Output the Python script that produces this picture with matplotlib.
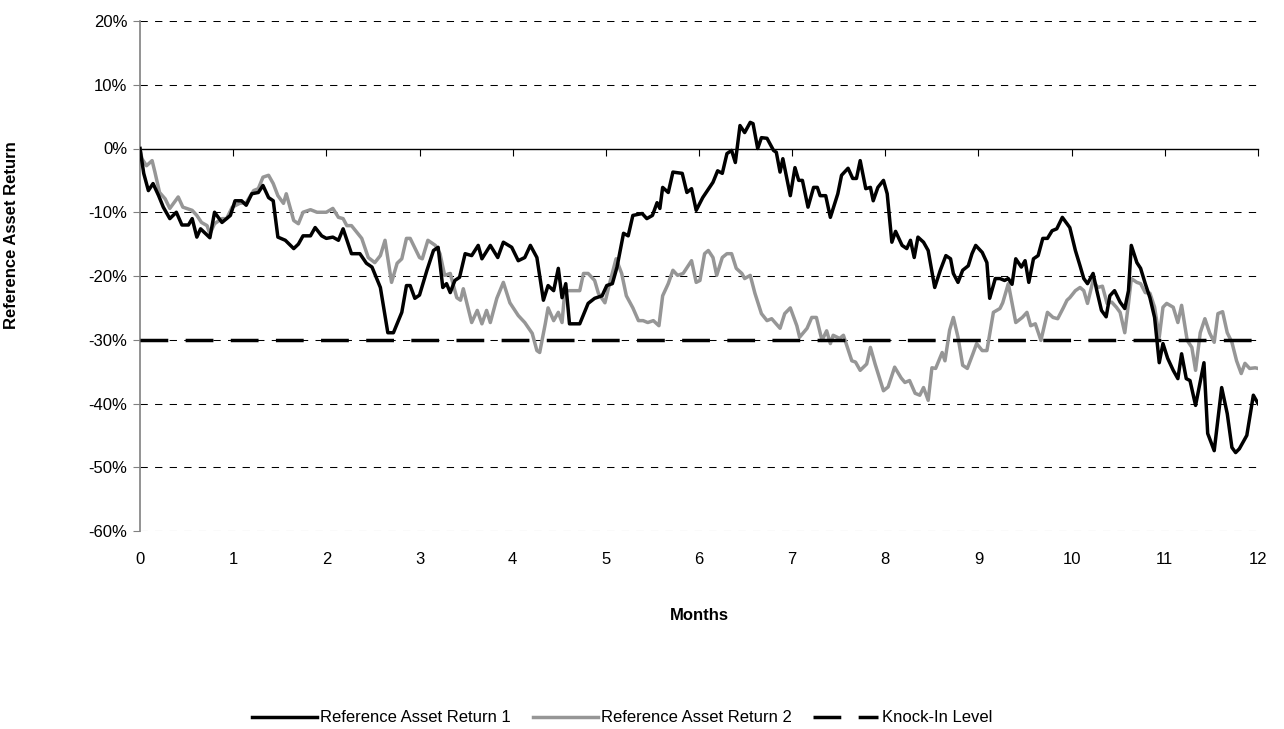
import matplotlib
matplotlib.use("Agg")
import matplotlib.pyplot as plt
from matplotlib.ticker import FuncFormatter, MultipleLocator

plt.rcParams['font.family'] = ['Liberation Sans', 'DejaVu Sans']

# Reference Asset Return 1 (black), months / return in %
months_1 = [0.0, 0.04, 0.09, 0.14, 0.2, 0.25, 0.32, 0.39, 0.45, 0.52, 0.56, 0.61, 0.65, 0.75, 0.8,
            0.88, 0.97, 1.02, 1.09, 1.14, 1.2, 1.27, 1.32, 1.38, 1.43, 1.48, 1.56, 1.65, 1.7, 1.75,
            1.83, 1.88, 1.95, 2.0, 2.07, 2.13, 2.18, 2.27, 2.36, 2.43, 2.49, 2.58, 2.66, 2.72, 2.81,
            2.86, 2.9, 2.95, 3.0, 3.08, 3.15, 3.2, 3.25, 3.29, 3.33, 3.38, 3.43, 3.49, 3.56, 3.63,
            3.67, 3.76, 3.84, 3.9, 3.99, 4.06, 4.13, 4.19, 4.26, 4.33, 4.38, 4.44, 4.49, 4.53, 4.57,
            4.61, 4.72, 4.81, 4.88, 4.96, 5.01, 5.07, 5.12, 5.19, 5.24, 5.29, 5.39, 5.44, 5.5, 5.55,
            5.58, 5.61, 5.67, 5.72, 5.82, 5.87, 5.92, 5.97, 6.04, 6.09, 6.15, 6.2, 6.25, 6.3, 6.35,
            6.39, 6.44, 6.49, 6.55, 6.58, 6.63, 6.67, 6.73, 6.76, 6.8, 6.83, 6.87, 6.9, 6.98, 7.03,
            7.07, 7.11, 7.17, 7.23, 7.27, 7.3, 7.36, 7.41, 7.46, 7.49, 7.53, 7.6, 7.65, 7.69, 7.73,
            7.79, 7.84, 7.87, 7.92, 7.98, 8.02, 8.07, 8.11, 8.18, 8.23, 8.27, 8.31, 8.35, 8.41, 8.46,
            8.53, 8.59, 8.65, 8.7, 8.73, 8.78, 8.83, 8.89, 8.93, 8.97, 9.04, 9.09, 9.12, 9.18, 9.23,
            9.28, 9.32, 9.36, 9.4, 9.46, 9.5, 9.54, 9.59, 9.64, 9.69, 9.74, 9.79, 9.84, 9.9, 9.95,
            9.98, 10.04, 10.09, 10.13, 10.17, 10.23, 10.27, 10.32, 10.37, 10.41, 10.46, 10.52, 10.57,
            10.61, 10.64, 10.7, 10.74, 10.79, 10.84, 10.89, 10.94, 10.98, 11.03, 11.09, 11.14, 11.18,
            11.23, 11.27, 11.33, 11.42, 11.46, 11.53, 11.61, 11.67, 11.72, 11.76, 11.8, 11.88, 11.95,
            12.0]
return_1 = [0, -3.9, -6.6, -5.5, -7.4, -9.2, -11, -10, -12, -12, -11, -13.9, -12.6, -14, -10,
            -11.6, -10.5, -8.2, -8.2, -8.9, -7.1, -6.9, -5.8, -7.7, -8.2, -13.9, -14.4, -15.7, -15, -13.7,
            -13.7, -12.4, -13.7, -14.1, -13.9, -14.4, -12.6, -16.5, -16.5, -18, -18.6, -21.8, -28.9, -28.9, -25.7,
            -21.5, -21.5, -23.5, -23, -19.1, -16, -15.5, -21.8, -21.2, -22.6, -20.7, -20.2, -16.5, -16.8, -15.2,
            -17.3, -15.2, -17.1, -14.7, -15.5, -17.6, -17.1, -15.2, -17.1, -23.8, -21.5, -22.3, -18.8, -23.4, -21.2,
            -27.5, -27.5, -24.3, -23.5, -23.1, -21.5, -21.2, -18.6, -13.3, -13.7, -10.5, -10.2, -11, -10.5, -8.5,
            -9.4, -6.1, -6.9, -3.7, -3.9, -6.9, -6.3, -9.7, -7.7, -6.6, -5.3, -3.5, -3.9, -0.8, -0.3,
            -2.2, 3.6, 2.5, 4.1, 3.9, 0, 1.7, 1.6, 0.8, -0.3, -0.6, -3.7, -1.6, -7.4, -3,
            -5, -5, -9.2, -6.1, -6.1, -7.4, -7.4, -10.8, -8.5, -7.1, -4.2, -3.1, -4.7, -4.7, -1.9,
            -6.3, -6.1, -8.2, -6.1, -5, -7.1, -14.7, -13, -15.2, -15.7, -14.4, -17.1, -13.9, -14.7, -16,
            -21.8, -19.1, -16.8, -17.3, -19.6, -21, -19.1, -18.4, -16.5, -15.2, -16.3, -17.9, -23.5, -20.4, -20.4,
            -20.7, -20.4, -21.3, -17.3, -18.6, -17.6, -21, -17.3, -16.8, -14.1, -14.1, -12.9, -12.6, -10.8, -11.8,
            -12.4, -16, -18.4, -20.4, -21.2, -19.6, -22.3, -25.4, -26.4, -23.1, -22.3, -24.1, -25.1,
            -22.3, -15.2, -17.9, -18.8, -21.2, -23.4, -26.5, -33.6, -30.6, -32.9, -34.8, -36.1, -32.2,
            -36.1, -36.4, -40.3, -33.6, -44.7, -47.4, -37.5, -41.6, -46.9, -47.7, -47.1, -45, -38.7,
            -40]

# Reference Asset Return 2 (grey)
months_2 = [0.0, 0.02, 0.07, 0.13, 0.16, 0.21, 0.27, 0.32, 0.41, 0.46, 0.56, 0.61, 0.66, 0.72, 0.75,
            0.8, 0.88, 0.93, 0.99, 1.07, 1.14, 1.22, 1.27, 1.32, 1.38, 1.43, 1.48, 1.54, 1.57, 1.65,
            1.7, 1.75, 1.83, 1.9, 2.0, 2.07, 2.13, 2.18, 2.22, 2.27, 2.38, 2.45, 2.52, 2.58, 2.63,
            2.7, 2.76, 2.81, 2.86, 2.9, 3.0, 3.03, 3.09, 3.17, 3.22, 3.27, 3.33, 3.4, 3.44, 3.47,
            3.56, 3.62, 3.67, 3.72, 3.76, 3.83, 3.9, 3.97, 4.06, 4.13, 4.21, 4.26, 4.29, 4.35, 4.38,
            4.44, 4.49, 4.53, 4.56, 4.72, 4.76, 4.81, 4.88, 4.92, 4.99, 5.04, 5.11, 5.17, 5.22, 5.29,
            5.35, 5.4, 5.45, 5.51, 5.57, 5.61, 5.67, 5.72, 5.77, 5.83, 5.92, 5.97, 6.01, 6.06, 6.1,
            6.15, 6.19, 6.25, 6.3, 6.35, 6.4, 6.46, 6.49, 6.55, 6.6, 6.67, 6.73, 6.78, 6.87, 6.92,
            6.98, 7.05, 7.08, 7.16, 7.21, 7.26, 7.32, 7.37, 7.41, 7.44, 7.51, 7.55, 7.64, 7.68, 7.73,
            7.8, 7.84, 7.89, 7.98, 8.03, 8.1, 8.17, 8.21, 8.26, 8.32, 8.37, 8.41, 8.46, 8.5, 8.54,
            8.61, 8.64, 8.69, 8.73, 8.78, 8.83, 8.88, 8.94, 8.98, 9.04, 9.09, 9.16, 9.23, 9.26, 9.32,
            9.4, 9.47, 9.52, 9.56, 9.61, 9.67, 9.74, 9.8, 9.85, 9.91, 9.95, 9.98, 10.04, 10.09, 10.13,
            10.17, 10.23, 10.28, 10.33, 10.38, 10.43, 10.48, 10.52, 10.57, 10.61, 10.64, 10.7, 10.74,
            10.79, 10.84, 10.89, 10.94, 10.98, 11.02, 11.09, 11.14, 11.18, 11.24, 11.29, 11.33, 11.38,
            11.43, 11.48, 11.53, 11.57, 11.62, 11.67, 11.72, 11.77, 11.82, 11.86, 11.91, 11.97, 12.0]
return_2 = [0, -1.6, -2.7, -1.9, -3.7, -6.9, -7.9, -9.4, -7.6, -9.2, -9.7, -10.5, -11.6, -12.1, -13.4,
            -11.8, -11, -11, -9.2, -8.6, -8.5, -6.6, -6.3, -4.5, -4.2, -5.5, -7.4, -8.6, -7.1, -11.3,
            -11.8, -10, -9.6, -10, -10, -9.4, -10.8, -11, -12.1, -12.1, -14.1, -17.1, -17.9, -16.8, -14.4,
            -21, -18, -17.3, -14.1, -14.1, -17.1, -17.3, -14.4, -15.2, -16.5, -19.9, -19.6, -23.4, -23.8, -22,
            -27.3, -25.4, -27.5, -25.4, -27.3, -23.5, -21, -24.2, -26.2, -27.3, -29, -31.7, -32, -27.5, -25,
            -27, -25.7, -27.3, -22.3, -22.3, -19.6, -19.6, -20.7, -22.7, -24.2, -21.2, -17.3, -19.6, -23.1, -25,
            -27, -27, -27.3, -27, -27.8, -23.1, -21.2, -19.1, -19.9, -19.6, -17.6, -21, -20.7, -16.5, -16,
            -17.1, -19.9, -17.1, -16.5, -16.5, -18.8, -19.6, -20.4, -19.9, -22.7, -25.9, -27, -26.7, -28.2, -25.9,
            -25, -27.8, -29.6, -28.2, -26.5, -26.5, -30.1, -28.6, -30.6, -29.3, -29.8, -29.3, -33.3, -33.5, -34.8,
            -33.8, -31.2, -33.8, -38, -37.4, -34.3, -36, -36.7, -36.4, -38.4, -38.7, -37.5, -39.5, -34.4, -34.5,
            -32, -33.3, -28.5, -26.5, -29.6, -34, -34.5, -32.2, -30.6, -31.7, -31.7, -25.7, -25.1, -24.2, -21.2,
            -27.3, -26.5, -25.7, -27.8, -27.5, -30.1, -25.7, -26.5, -26.7, -25, -23.8, -23.4, -22.3, -21.8, -22.3,
            -24.3, -20.7, -21.8, -21.6, -24.3, -24.1, -24.9, -25.7, -28.9, -24.3, -20.4, -21, -21.2,
            -22.6, -22.7, -24.9, -29.6, -24.9, -24.3, -24.9, -27.3, -24.6, -30.1, -31.2, -34.8, -28.9,
            -26.7, -28.9, -30.4, -25.9, -25.6, -28.9, -30.4, -33.3, -35.3, -33.7, -34.5, -34.4, -34.5]

knock_in_months = [0, 12]
knock_in_level = [-30, -30]

x_ticks = list(range(0, 13))
y_ticks = list(range(-60, 21, 10))

fig = plt.figure(figsize=(12.84, 7.29), dpi=100)
ax = fig.add_axes([140 / 1284, 1 - 531 / 729, 1118 / 1284, 510 / 729])

ax.set_xlim(0, 12)
ax.set_ylim(-60, 20)

# dashed grid (except the zero line which is the solid axis)
for y in y_ticks:
    if y != 0:
        ax.axhline(y, color='black', lw=0.75, linestyle=(0, (7, 7)), zorder=1)

l2, = ax.plot(months_2, return_2, color='#969696', lw=2.5, zorder=3,
              label='Reference Asset Return 2')
l1, = ax.plot(months_1, return_1, color='black', lw=2.5, zorder=4,
              label='Reference Asset Return 1')
lk, = ax.plot(knock_in_months, knock_in_level, color='black', lw=2.5,
              linestyle=(0, (8, 5)), zorder=5, label='Knock-In Level')

for s in ['top', 'right', 'bottom']:
    ax.spines[s].set_visible(False)
ax.spines['left'].set_color('#808080')
ax.spines['left'].set_linewidth(1.2)

ax.yaxis.set_major_locator(MultipleLocator(10))
ax.yaxis.set_major_formatter(FuncFormatter(lambda v, p: '%d%%' % v))
ax.set_xticks(x_ticks)
ax.tick_params(axis='y', direction='out', length=5, color='#808080', labelsize=12, pad=4)
ax.tick_params(axis='x', length=0, labelsize=12, pad=15)

# horizontal axis line at 0% with its tick marks
sec = ax.secondary_xaxis(0, transform=ax.transData)
sec.set_xticks(x_ticks)
sec.tick_params(axis='x', direction='out', length=5, color='black', labelbottom=False)
sec.spines['bottom'].set_color('black')
sec.spines['bottom'].set_linewidth(1.0)

ax.set_ylabel('Reference Asset Return', fontsize=12, fontweight='bold')
ax.yaxis.set_label_coords(-0.108, 0.58)
ax.set_xlabel('Months', fontsize=12, fontweight='bold')
ax.xaxis.set_label_coords(0.5, -0.15)

fig.legend(handles=[l1, l2, lk], loc='center', ncol=3, frameon=False,
           bbox_to_anchor=(622 / 1284, 1 - 718 / 729), fontsize=12,
           handlelength=3.9, handletextpad=0.2, columnspacing=1.3)

fig.savefig('out.png', dpi=100)
